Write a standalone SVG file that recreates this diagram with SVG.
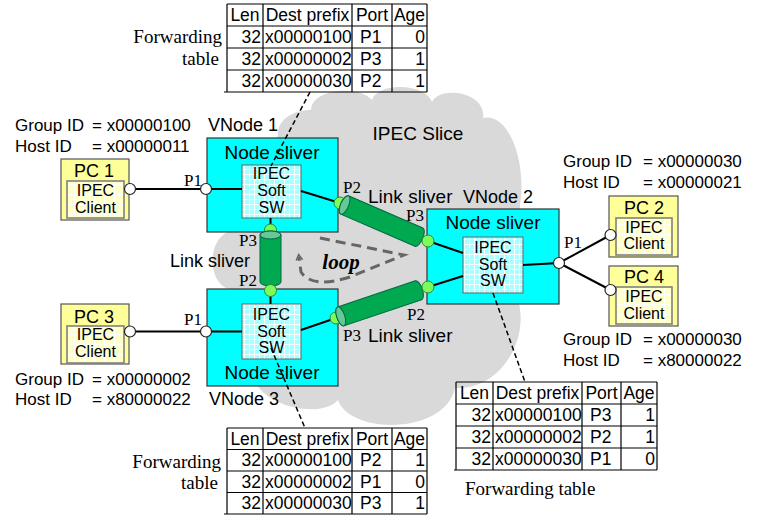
<svg xmlns="http://www.w3.org/2000/svg" width="759" height="526" viewBox="0 0 759 526">
<style>
.s{font-family:'Liberation Sans',Arial,sans-serif;fill:#000}
.r{font-family:'Liberation Serif','Times New Roman',serif;fill:#000}
.t16{font-size:16px}.t17{font-size:17px}.t18{font-size:18px}.t19{font-size:19px}
.c{text-anchor:middle}.e{text-anchor:end}
.node{fill:#00FFFF;stroke:#333;stroke-width:1.2}
.sw{fill:url(#gridC);stroke:#666;stroke-width:1}
.pc{fill:#FFFF99;stroke:#555;stroke-width:1.2}
.cl{fill:url(#gridY);stroke:#808080;stroke-width:1.6}
.wire{stroke:#000;stroke-width:2;fill:none}
.dash{stroke:#000;stroke-width:1.5;fill:none;stroke-dasharray:5 3}
.port{fill:#fff;stroke:#222;stroke-width:1.2}
.gport{fill:#7CFC5C;stroke:#2E8B2E;stroke-width:1}
.cyl{fill:#00A850;stroke:#064;stroke-width:1}
.face{fill:#66C896;stroke:#064;stroke-width:1}
.grid{stroke:#000;stroke-width:1.2;fill:none}
.tb{font-family:'Liberation Sans',Arial,sans-serif;font-size:17.5px;fill:#000}
</style>
<defs>
<pattern id="gridC" width="5" height="5" patternUnits="userSpaceOnUse">
<rect width="5" height="5" fill="#A8FFFF"/>
<path d="M4.5 0V5M0 4.5H5" stroke="#fff" stroke-width="0.9"/>
</pattern>
<pattern id="gridY" width="5" height="5" patternUnits="userSpaceOnUse">
<rect width="5" height="5" fill="#FFFFC8"/>
<path d="M4.5 0V5M0 4.5H5" stroke="#fff" stroke-width="0.9"/>
</pattern>
<marker id="loopArrow" viewBox="0 0 10 10" refX="5" refY="5" markerWidth="8" markerHeight="8" markerUnits="userSpaceOnUse" orient="auto">
<path d="M1 1L8 5L1 9" fill="none" stroke="#666" stroke-width="2"/>
</marker>
</defs>

<g id="cloud">
<path d="M228 232 C208 240 206 282 230 290 L255 380 C262 405 320 420 338 400 C350 435 445 435 455 388 C500 390 530 340 518 300 L520 205 C527 160 508 112 483 118 C487 92 440 85 432 102 C425 83 378 82 372 100 C360 85 312 88 311 110 C293 110 277 120 278 135 Z" fill="#D9D9D9"/>
<text class="s t19 c" x="418" y="140">IPEC Slice</text>
</g>

<g id="table-vnode1">
<path class="grid" d="M227 4H427M227 26H427M227 48H427M227 70H427M224 92H427M227 4V92M263 4V92M352 4V92M392 4V92M427 4V92"/>
<text class="tb c" x="245" y="21">Len</text><text class="tb c" x="307.5" y="21">Dest prefix</text><text class="tb c" x="372" y="21">Port</text><text class="tb c" x="409.5" y="21">Age</text>
<text class="tb e" x="261" y="43">32</text><text class="tb" x="265" y="43">x00000100</text><text class="tb" x="360" y="43">P1</text><text class="tb e" x="425" y="43">0</text>
<text class="tb e" x="261" y="65">32</text><text class="tb" x="265" y="65">x00000002</text><text class="tb" x="360" y="65">P3</text><text class="tb e" x="425" y="65">1</text>
<text class="tb e" x="261" y="87">32</text><text class="tb" x="265" y="87">x00000030</text><text class="tb" x="360" y="87">P2</text><text class="tb e" x="425" y="87">1</text>
<text class="r t19 e" x="222" y="43">Forwarding</text>
<text class="r t19 e" x="219" y="65">table</text>
</g>

<g id="table-vnode3">
<path class="grid" d="M227 428H427M227 449.5H427M227 471H427M227 492.5H427M224 514H427M227 428V514M263 428V514M352 428V514M392 428V514M427 428V514"/>
<text class="tb c" x="245" y="445">Len</text><text class="tb c" x="307.5" y="445">Dest prefix</text><text class="tb c" x="372" y="445">Port</text><text class="tb c" x="409.5" y="445">Age</text>
<text class="tb e" x="261" y="466">32</text><text class="tb" x="265" y="466">x00000100</text><text class="tb" x="360" y="466">P2</text><text class="tb e" x="425" y="466">1</text>
<text class="tb e" x="261" y="488">32</text><text class="tb" x="265" y="488">x00000002</text><text class="tb" x="360" y="488">P1</text><text class="tb e" x="425" y="488">0</text>
<text class="tb e" x="261" y="509">32</text><text class="tb" x="265" y="509">x00000030</text><text class="tb" x="360" y="509">P3</text><text class="tb e" x="425" y="509">1</text>
<text class="r t19 e" x="221" y="468">Forwarding</text>
<text class="r t19 e" x="218" y="489">table</text>
</g>

<g id="table-vnode2">
<path class="grid" d="M456 382H657M456 404H657M456 426H657M456 448H657M454 470H657M456 382V470M493 382V470M582 382V470M621 382V470M657 382V470"/>
<text class="tb c" x="474.5" y="399">Len</text><text class="tb c" x="537.5" y="399">Dest prefix</text><text class="tb c" x="601.5" y="399">Port</text><text class="tb c" x="639" y="399">Age</text>
<text class="tb e" x="491" y="421">32</text><text class="tb" x="495" y="421">x00000100</text><text class="tb" x="590" y="421">P3</text><text class="tb e" x="655" y="421">1</text>
<text class="tb e" x="491" y="443">32</text><text class="tb" x="495" y="443">x00000002</text><text class="tb" x="590" y="443">P2</text><text class="tb e" x="655" y="443">1</text>
<text class="tb e" x="491" y="465">32</text><text class="tb" x="495" y="465">x00000030</text><text class="tb" x="590" y="465">P1</text><text class="tb e" x="655" y="465">0</text>
<text class="r t19" x="465" y="495">Forwarding table</text>
</g>

<g id="vnode1">
<rect class="node" x="207" y="138" width="131" height="94"/>
<text class="s t19 c" x="272" y="159">Node sliver</text>
<rect class="sw" x="242" y="165" width="59" height="53"/>
<text class="s t16 c" x="271.5" y="179">IPEC</text>
<text class="s t16 c" x="271.5" y="196">Soft</text>
<text class="s t16 c" x="271.5" y="213">SW</text>
<text class="s t18" x="208" y="131">VNode 1</text>
</g>

<g id="vnode3">
<rect class="node" x="207" y="289" width="131" height="97"/>
<rect class="sw" x="242" y="304" width="59" height="55"/>
<text class="s t16 c" x="271.5" y="320">IPEC</text>
<text class="s t16 c" x="271.5" y="336.5">Soft</text>
<text class="s t16 c" x="271.5" y="353">SW</text>
<text class="s t19 c" x="272" y="379">Node sliver</text>
<text class="s t18" x="209" y="405">VNode 3</text>
</g>

<g id="vnode2">
<rect class="node" x="427" y="209" width="132" height="95"/>
<text class="s t19 c" x="493" y="229">Node sliver</text>
<rect class="sw" x="463" y="237" width="60" height="56"/>
<text class="s t16 c" x="493" y="253">IPEC</text>
<text class="s t16 c" x="493" y="269.5">Soft</text>
<text class="s t16 c" x="493" y="286">SW</text>
<text class="s t18" x="463" y="203">VNode 2</text>
</g>

<g id="pc1">
<rect class="pc" x="61" y="159" width="68" height="61"/>
<text class="s t18 c" x="94" y="177">PC 1</text>
<rect class="cl" x="67" y="181" width="57" height="37"/>
<text class="s t16 c" x="95.5" y="196">IPEC</text>
<text class="s t16 c" x="95.5" y="213">Client</text>
<text class="s t17" x="15" y="131">Group ID</text><text class="s t17" x="92" y="131">= x00000100</text>
<text class="s t17" x="15" y="152">Host ID</text><text class="s t17" x="92" y="152">= x00000011</text>
</g>

<g id="pc3">
<rect class="pc" x="61" y="304" width="68" height="60"/>
<text class="s t18 c" x="94" y="323">PC 3</text>
<rect class="cl" x="67" y="326" width="57" height="37"/>
<text class="s t16 c" x="95.5" y="340">IPEC</text>
<text class="s t16 c" x="95.5" y="357">Client</text>
<text class="s t17" x="15" y="385">Group ID</text><text class="s t17" x="92" y="385">= x00000002</text>
<text class="s t17" x="15" y="405">Host ID</text><text class="s t17" x="92" y="405">= x80000022</text>
</g>

<g id="pc2">
<rect class="pc" x="609" y="196" width="69" height="61"/>
<text class="s t18 c" x="644" y="214">PC 2</text>
<rect class="cl" x="616" y="218" width="56" height="37"/>
<text class="s t16 c" x="644" y="232.5">IPEC</text>
<text class="s t16 c" x="644" y="249">Client</text>
<text class="s t17" x="563" y="167">Group ID</text><text class="s t17" x="643" y="167">= x00000030</text>
<text class="s t17" x="563" y="188">Host ID</text><text class="s t17" x="643" y="188">= x00000021</text>
</g>

<g id="pc4">
<rect class="pc" x="609" y="266" width="69" height="60"/>
<text class="s t18 c" x="644" y="283">PC 4</text>
<rect class="cl" x="616" y="287" width="56" height="37"/>
<text class="s t16 c" x="644" y="302">IPEC</text>
<text class="s t16 c" x="644" y="318.5">Client</text>
<text class="s t17" x="563" y="345">Group ID</text><text class="s t17" x="643" y="345">= x00000030</text>
<text class="s t17" x="563" y="366">Host ID</text><text class="s t17" x="643" y="366">= x80000022</text>
</g>

<g id="connectors">
<path class="wire" d="M130 189H242M301 191L340 203M270.5 218V230M270.5 304V290.5M130 331.5H242M301 330L336 318M428 241L463 253M428 287L463 276M523 265L559 263L610.5 235M559 263L610.5 290"/>
<path class="dash" d="M310 92L271 166M271 348L305 428M493 293L525 382"/>
<path d="M320 238L404 255L350 277Q312 289 301 272L299 257" fill="none" stroke="#666" stroke-width="3" stroke-dasharray="10 6" marker-end="url(#loopArrow)"/>
<circle class="port" cx="130" cy="189" r="5.5"/>
<circle class="port" cx="206" cy="189" r="5.5"/>
<circle class="port" cx="130" cy="331.5" r="5.5"/>
<circle class="port" cx="206" cy="331.5" r="5.5"/>
<circle class="port" cx="559" cy="263" r="5.5"/>
<circle class="port" cx="610.5" cy="235" r="5.5"/>
<circle class="port" cx="610.5" cy="290" r="5.5"/>
<circle class="gport" cx="340" cy="203" r="6"/>
<circle class="gport" cx="336" cy="318" r="6"/>
<circle class="gport" cx="270.5" cy="230" r="6"/>
<g id="link-1-2" transform="translate(340 203) rotate(23.4)">
<path class="cyl" d="M5 -10L86 -10A4 10 0 0 1 86 10L5 10A4 10 0 0 1 5 -10Z"/>
<ellipse class="face" cx="5" cy="0" rx="4" ry="10"/>
</g>
<g id="link-3-2" transform="translate(336 318) rotate(-18.6)">
<path class="cyl" d="M5 -10L87 -10A4 10 0 0 1 87 10L5 10A4 10 0 0 1 5 -10Z"/>
<ellipse class="face" cx="5" cy="0" rx="4" ry="10"/>
</g>
<g id="link-1-3" transform="translate(270.5 230) rotate(90)">
<path class="cyl" d="M5 -10.5L52 -10.5A4 10.5 0 0 1 52 10.5L5 10.5A4 10.5 0 0 1 5 -10.5Z"/>
<ellipse class="face" cx="5" cy="0" rx="4" ry="10.5"/>
</g>
<circle class="gport" cx="428" cy="241" r="6"/>
<circle class="gport" cx="428" cy="287" r="6"/>
<circle class="gport" cx="270.5" cy="290.5" r="6"/>
<text class="r t17 c" x="193" y="186">P1</text>
<text class="r t17 c" x="193" y="325">P1</text>
<text class="r t17 c" x="352" y="193">P2</text>
<text class="r t17 c" x="415" y="221">P3</text>
<text class="r t17 c" x="573" y="248">P1</text>
<text class="r t17 c" x="416" y="320">P2</text>
<text class="r t17 c" x="352" y="341">P3</text>
<text class="r t17 c" x="248" y="246">P3</text>
<text class="r t17 c" x="248" y="286">P2</text>
<text class="s t19" x="368" y="203">Link sliver</text>
<text class="s t19" x="368" y="342">Link sliver</text>
<text class="s t18 c" x="210" y="267">Link sliver</text>
<text class="r c" x="341" y="269" font-size="21" font-weight="bold" font-style="italic">loop</text>
</g>
</svg>
